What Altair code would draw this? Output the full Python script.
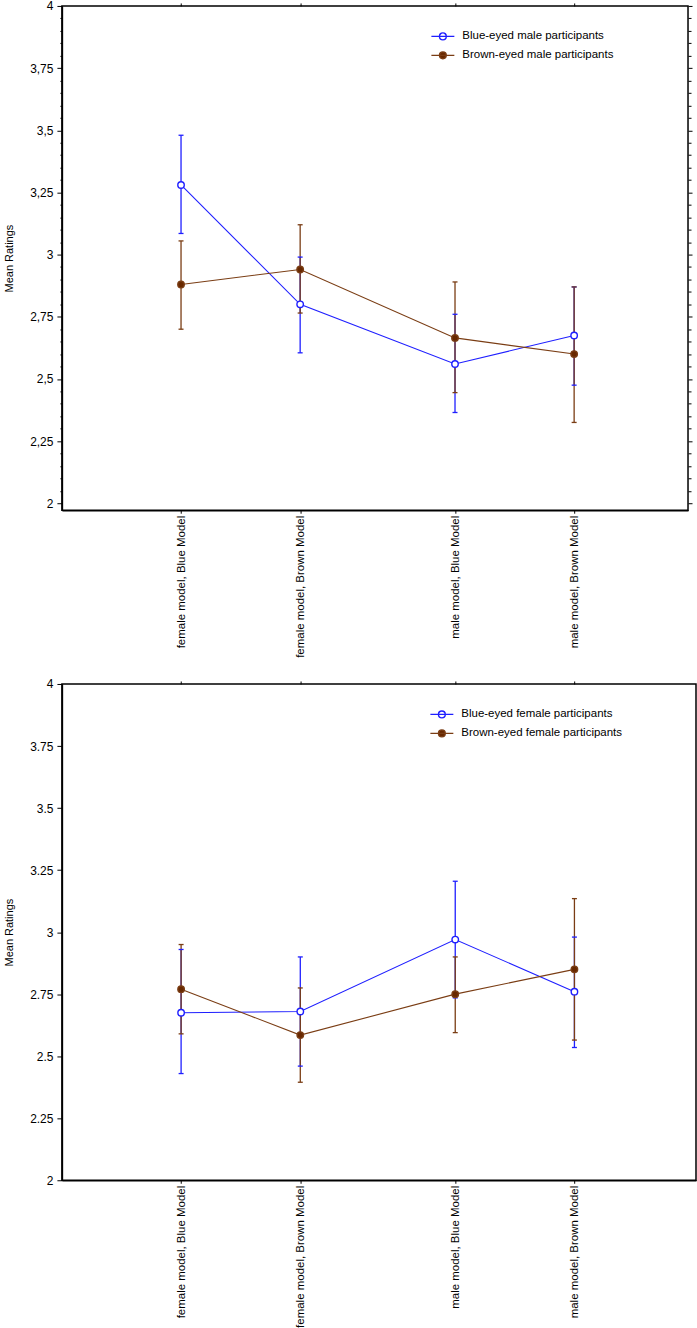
import altair as alt
import pandas as pd

categories = ["female model, Blue Model", "female model, Brown Model",
              "male model, Blue Model", "male model, Brown Model"]
cat_pos = [1, 2, 3.3, 4.3]

# top panel (male participants)
male_names = ["Blue-eyed male participants", "Brown-eyed male participants"]
blue_m_mean = [3.28, 2.80, 2.56, 2.675]
blue_m_lo = [3.085, 2.605, 2.365, 2.475]
blue_m_hi = [3.48, 2.99, 2.76, 2.87]
brown_m_mean = [2.88, 2.94, 2.665, 2.60]
brown_m_lo = [2.70, 2.765, 2.445, 2.325]
brown_m_hi = [3.055, 3.12, 2.89, 2.87]

# bottom panel (female participants)
female_names = ["Blue-eyed female participants", "Brown-eyed female participants"]
blue_f_mean = [2.675, 2.68, 2.97, 2.76]
blue_f_lo = [2.43, 2.46, 2.735, 2.535]
blue_f_hi = [2.93, 2.90, 3.205, 2.98]
brown_f_mean = [2.77, 2.585, 2.75, 2.85]
brown_f_lo = [2.59, 2.395, 2.595, 2.565]
brown_f_hi = [2.95, 2.775, 2.90, 3.135]

BLUE = "#1f1fff"
BROWN_LINE = "#7a3d14"
BROWN_PT = "#682800"
FONT = "Liberation Sans"


def make_df(names, means, los, his):
    rows = []
    for s, m, lo, hi in zip(names, means, los, his):
        for c, p, mv, l, h in zip(categories, cat_pos, m, lo, hi):
            rows.append(dict(series=s, cat=c, pos=p, mean=mv, lo=l, hi=h))
    return pd.DataFrame(rows)


x_label_expr = " : ".join(
    f"datum.value == {p} ? '{c}'" for p, c in zip(cat_pos, categories)) + " : ''"
MAJOR = "abs(datum.value*4 - round(datum.value*4)) < 0.001"
SYMBOL = "M-1,0L1,0M0.3,0A0.3,0.3,0,1,1,-0.3,0A0.3,0.3,0,1,1,0.3,0"


def panel(df, names, ydomain, xmax, w, h, comma, minor, legend_xy, right_ticks):
    if minor:
        yvals = [round(2 + 0.05 * i, 2) for i in range(41)]
    else:
        yvals = [round(2 + 0.25 * i, 2) for i in range(9)]
    if comma:
        ylab = f"{MAJOR} ? replace('' + datum.value, '.', ',') : ''"
    else:
        ylab = f"{MAJOR} ? '' + datum.value : ''"
    tick_size = {"condition": {"test": MAJOR, "value": 5}, "value": 2}

    xscale = alt.Scale(domain=[0, xmax], nice=False, zero=False)
    yscale = alt.Scale(domain=ydomain, nice=False, zero=False)

    legend = alt.Legend(
        title=None, orient="none", legendX=legend_xy[0], legendY=legend_xy[1],
        symbolType=SYMBOL, symbolSize=529, symbolStrokeWidth=1.3,
        labelFont=FONT, labelFontSize=11.5, labelColor="black",
        labelOffset=7, labelLimit=400, rowPadding=-3)
    sscale = alt.Scale(domain=names, range=[BLUE, BROWN_LINE])
    stroke = alt.Stroke("series:N", scale=sscale, legend=legend)
    fill = alt.Fill("series:N", scale=alt.Scale(domain=names, range=["white", BROWN_PT]),
                    legend=legend)

    x_main = alt.X("pos:Q", scale=xscale, axis=alt.Axis(
        values=cat_pos, labelExpr=x_label_expr, labelAngle=270, title=None,
        tickSize=3, labelPadding=2, labelFont=FONT, labelFontSize=11.5,
        labelColor="black", domainColor="black", domainWidth=1.5, tickColor="black",
        grid=False))
    y_main = alt.Y("mean:Q", scale=yscale, axis=alt.Axis(
        values=yvals, labelExpr=ylab, tickSize=tick_size, labelPadding=4,
        title="Mean Ratings", titleFont=FONT, titleFontSize=11, titleFontWeight="normal",
        titleColor="black", titlePadding=15, labelFont=FONT, labelFontSize=12,
        labelColor="black", domainColor="black", domainWidth=1.5, tickColor="black",
        grid=False))
    x_none = alt.X("pos:Q", scale=xscale, axis=None)
    y_none = alt.Y("mean:Q", scale=yscale, axis=None)

    base = alt.Chart(df)
    line = base.mark_line(strokeWidth=1.1).encode(x=x_main, y=y_main, stroke=stroke)
    bars = base.mark_rule(strokeWidth=1.3).encode(
        x=x_none, y=alt.Y("lo:Q", scale=yscale, axis=None), y2="hi:Q", stroke=stroke)
    cap_lo = base.mark_rule(strokeWidth=1.3, xOffset=-2.5, x2Offset=2.5).encode(
        x=x_none, x2="pos:Q", y=alt.Y("lo:Q", scale=yscale, axis=None), stroke=stroke)
    cap_hi = base.mark_rule(strokeWidth=1.3, xOffset=-2.5, x2Offset=2.5).encode(
        x=x_none, x2="pos:Q", y=alt.Y("hi:Q", scale=yscale, axis=None), stroke=stroke)
    pts = base.mark_point(shape="circle", filled=True, size=42, strokeWidth=1.4,
                          opacity=1).encode(x=x_none, y=y_none, stroke=stroke, fill=fill)
    if right_ticks:
        right_axis = alt.Axis(
            orient="right", values=yvals, labels=False, title=None,
            tickSize={"condition": {"test": MAJOR, "value": 4}, "value": 3},
            domain=False, tickColor="black", grid=False, minExtent=0)
    else:
        right_axis = alt.Axis(orient="right", values=yvals, labels=False, title=None,
                              ticks=False, domain=False, grid=False, minExtent=0)
    frame = base.mark_point(opacity=0).encode(
        x=alt.X("pos:Q", scale=xscale, axis=alt.Axis(
            orient="top", values=cat_pos, labels=False, title=None, tickSize=3,
            domain=False, tickColor="black", grid=False, minExtent=0)),
        y=alt.Y("mean:Q", scale=yscale, axis=right_axis))
    return alt.layer(frame, bars, cap_lo, cap_hi, line, pts).resolve_axis(
        x="independent", y="independent").properties(width=w, height=h)


top = panel(make_df(male_names, [blue_m_mean, brown_m_mean], [blue_m_lo, brown_m_lo],
                    [blue_m_hi, brown_m_hi]),
            male_names, [1.972, 4], 5.256, 627, 505, True, True, (369, 18), True)
bottom = panel(make_df(female_names, [blue_f_mean, brown_f_mean], [blue_f_lo, brown_f_lo],
                       [blue_f_hi, brown_f_hi]),
               female_names, [2, 4], 5.32, 635, 497, False, False, (368, 18), False)

chart = alt.vconcat(top, bottom, spacing=18).resolve_scale(
    stroke="independent", fill="independent").resolve_legend(
    stroke="independent", fill="independent").properties(
    padding={"left": 2, "top": -2, "right": 0, "bottom": 0}, background="white"
).configure_view(stroke="black", strokeWidth=1.5)

chart.save("out.html", embed_options={"renderer": "svg", "actions": False})
